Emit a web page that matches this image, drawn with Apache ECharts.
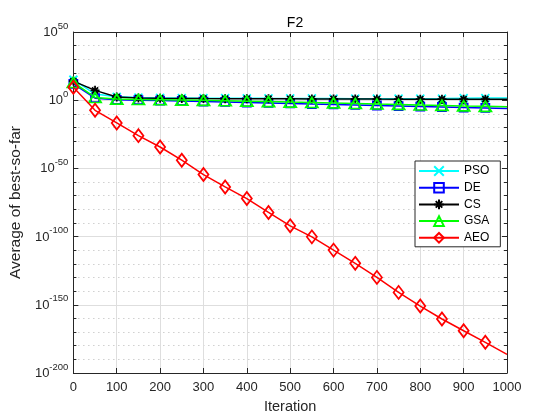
<!DOCTYPE html>
<html>
<head>
<meta charset="utf-8">
<script src="https://cdn.jsdelivr.net/npm/echarts@6/dist/echarts.min.js"></script>
<style>
html,body{margin:0;padding:0;background:#fff;}
#chart{width:560px;height:420px;}
</style>
</head>
<body>
<div id="chart"></div>
<script>
// Iterations at which markers are drawn
var iterations = [0, 50, 100, 150, 200, 250, 300, 350, 400, 450, 500, 550, 600, 650, 700, 750, 800, 850, 900, 950, 1000];
var seriesNames = ['PSO', 'DE', 'CS', 'GSA', 'AEO'];
// Average best-so-far values
var pso = [1e15, 3.2e4, 3.2e2, 7.9e1, 5.0e1, 4.0e1, 3.2e1, 2.8e1, 2.5e1, 2.2e1, 2.0e1, 1.8e1, 1.6e1, 1.4e1, 1.26e1, 1.26e1, 1.26e1, 1.6e1, 3.2e1, 4.0e1, 4.0e1];
var de  = [1e12, 3.2e1, 2.0, 1.0, 5.0e-1, 2.5e-1, 1.0e-1, 5.0e-2, 2.0e-2, 1.0e-2, 4.0e-3, 1.6e-3, 7.9e-4, 3.2e-4, 1.26e-4, 5.0e-5, 2.0e-5, 1.0e-5, 4.0e-6, 2.0e-6, 1.0e-6];
var cs  = [1e14, 1.6e7, 2.0e2, 4.0e1, 2.5e1, 2.0e1, 1.6e1, 1.4e1, 1.26e1, 1.12e1, 1.0e1, 8.9, 7.9, 7.1, 6.3, 6.0, 5.6, 5.2, 5.0, 4.8, 4.5];
var gsa = [1e13, 1.0e2, 6.3, 3.2, 2.0, 1.26, 7.9e-1, 4.0e-1, 2.0e-1, 1.0e-1, 4.0e-2, 2.0e-2, 1.0e-2, 4.0e-3, 1.6e-3, 7.9e-4, 3.2e-4, 1.6e-4, 6.3e-5, 3.2e-5, 1.6e-5];
var aeo = [3.2e9, 4.0e-8, 2.0e-17, 1.0e-26, 5.0e-35, 1.0e-44, 3.2e-55, 2.5e-64, 7.9e-73, 5.0e-83, 7.9e-93, 6.3e-101, 1.26e-110, 2.5e-120, 1.26e-130, 1.26e-141, 1.26e-151, 4.0e-161, 1.0e-169, 3.2e-178, 5.0e-187];
// Axis ticks (y axis is decades: 10^-200 ... 10^50)
var xTicks = {min: 0, max: 1000, step: 100};
var yDecades = {min: -200, max: 50, step: 50, minorStep: 10};

var chart = echarts.init(document.getElementById('chart'), null, {renderer: 'canvas'});
var axisColor = '#262626';
var fontFam = 'Liberation Sans, Arial, Helvetica, sans-serif';

function build(vals) {
  return iterations.map(function (x, i) {
    var item = {value: [x, Math.log(vals[i]) / Math.LN10]};
    if (x === 1000) item.symbol = 'none';
    return item;
  });
}

var styles = [
  {color: '#00FFFF', symbol: 'path://M0,0L10,10M10,0L0,10', size: 8},
  {color: '#0000FF', symbol: 'rect', size: 8},
  {color: '#000000', symbol: 'path://M5,0L5,10M0,5L10,5M1.6,1.6L8.4,8.4M8.4,1.6L1.6,8.4', size: 9},
  {color: '#00FF00', symbol: 'triangle', size: [12, 10]},
  {color: '#FF0000', symbol: 'diamond', size: [10, 13]}
];
var allData = [pso, de, cs, gsa, aeo];

var series = seriesNames.map(function (name, k) {
  var s = styles[k];
  return {
    name: name,
    type: 'line',
    xAxisIndex: 0,
    yAxisIndex: 0,
    data: build(allData[k]),
    showSymbol: true,
    showAllSymbol: true,
    symbol: s.symbol,
    symbolSize: s.size,
    lineStyle: {color: s.color, width: 1.5},
    itemStyle: {color: 'rgba(0,0,0,0)', borderColor: s.color, borderWidth: 1.8},
    emphasis: {disabled: true},
    animation: false,
    z: 3 + k
  };
});

var option = {
  animation: false,
  backgroundColor: '#ffffff',
  title: {
    text: 'F2',
    left: 290,
    top: 11,
    textAlign: 'center',
    textStyle: {fontFamily: fontFam, fontSize: 14, fontWeight: 'normal', color: '#000'}
  },
  grid: {left: 73, top: 32, width: 434, height: 341},
  legend: {
    data: seriesNames,
    orient: 'vertical',
    left: 415,
    top: 161,
    padding: [4, 11, 3, 3],
    itemWidth: 40,
    itemHeight: 12,
    itemGap: 4.7,
    backgroundColor: '#ffffff',
    borderColor: axisColor,
    borderWidth: 1,
    textStyle: {fontFamily: fontFam, fontSize: 12, color: '#000'}
  },
  xAxis: [
    {
      type: 'value', position: 'bottom',
      min: xTicks.min, max: xTicks.max, interval: xTicks.step,
      name: 'Iteration', nameLocation: 'middle', nameGap: 26,
      nameTextStyle: {fontFamily: fontFam, fontSize: 14.5, color: axisColor},
      axisLine: {show: true, onZero: false, lineStyle: {color: axisColor, width: 1}},
      axisTick: {show: true, inside: true, length: 5, lineStyle: {color: axisColor}},
      axisLabel: {fontFamily: fontFam, fontSize: 13, color: axisColor, margin: 8,
        formatter: function (v) { return String(v); }},
      splitLine: {show: true, lineStyle: {color: '#dedede', width: 1}}
    },
    {
      type: 'value', position: 'top',
      min: xTicks.min, max: xTicks.max, interval: xTicks.step,
      axisLine: {show: true, onZero: false, lineStyle: {color: axisColor, width: 1}},
      axisTick: {show: true, inside: true, length: 5, lineStyle: {color: axisColor}},
      axisLabel: {show: false},
      splitLine: {show: false}
    }
  ],
  yAxis: [
    {
      type: 'value', position: 'left',
      min: yDecades.min, max: yDecades.max, interval: yDecades.step,
      name: 'Average of best-so-far', nameLocation: 'middle', nameGap: 43,
      nameTextStyle: {fontFamily: fontFam, fontSize: 15.5, color: axisColor},
      axisLine: {show: true, onZero: false, lineStyle: {color: axisColor, width: 1}},
      axisTick: {show: true, inside: true, length: 5, lineStyle: {color: axisColor}},
      minorTick: {show: true, splitNumber: 5, length: 3, lineStyle: {color: axisColor}},
      minorSplitLine: {show: true, lineStyle: {color: '#b8b8b8', width: 1, type: [1, 4]}},
      axisLabel: {
        margin: 5,
        formatter: function (v) {
          return '{b|10}{s|' + Math.round(v) + '}';
        },
        rich: {
          b: {fontFamily: fontFam, fontSize: 13, color: axisColor, lineHeight: 14, verticalAlign: 'bottom'},
          s: {fontFamily: fontFam, fontSize: 9.5, color: axisColor, lineHeight: 10, verticalAlign: 'bottom', padding: [0, 0, 8, 0]}
        }
      },
      splitLine: {show: true, lineStyle: {color: '#dedede', width: 1}}
    },
    {
      type: 'value', position: 'right',
      min: yDecades.min, max: yDecades.max, interval: yDecades.step,
      axisLine: {show: true, onZero: false, lineStyle: {color: axisColor, width: 1}},
      axisTick: {show: true, inside: true, length: 5, lineStyle: {color: axisColor}},
      minorTick: {show: true, splitNumber: 5, length: 3, lineStyle: {color: axisColor}},
      axisLabel: {show: false},
      splitLine: {show: false}
    }
  ],
  series: series
};
chart.setOption(option);
</script>
</body>
</html>
